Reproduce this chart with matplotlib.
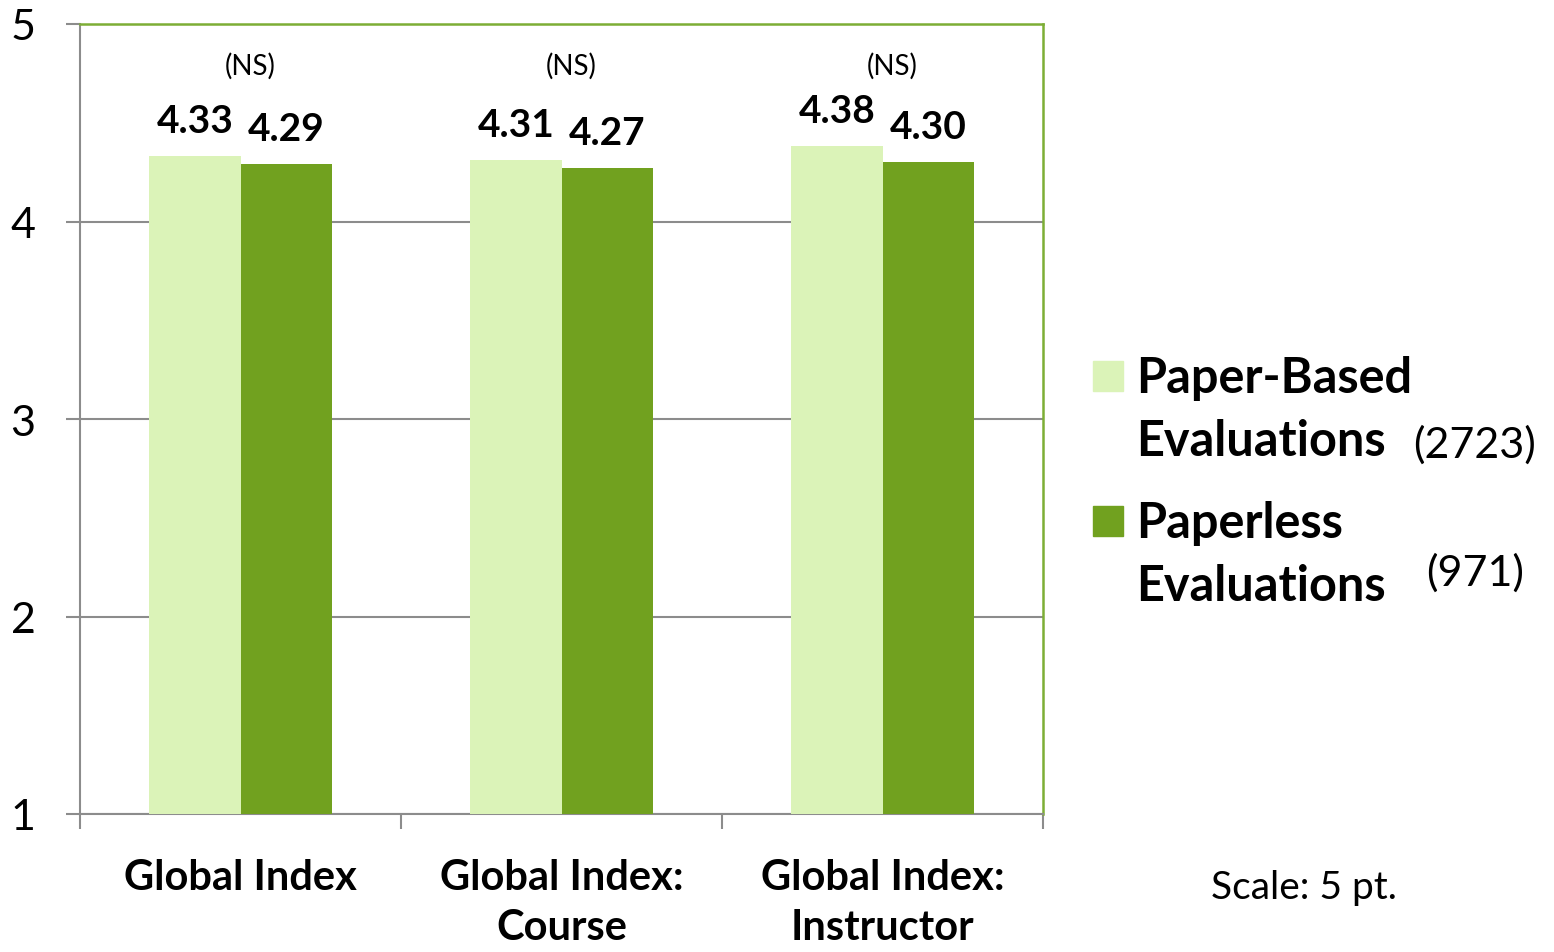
import matplotlib.pyplot as plt
from matplotlib.patches import Rectangle
import numpy as np

plt.rcParams['font.family'] = ['Lato', 'DejaVu Sans']

categories = ['Global Index', 'Global Index:\nCourse', 'Global Index:\nInstructor']
paper_based = [4.33, 4.31, 4.38]
paperless = [4.29, 4.27, 4.30]
significance = ['(NS)', '(NS)', '(NS)']
series_names = ['Paper-Based\nEvaluations', 'Paperless\nEvaluations']
series_counts = ['(2723)', '(971)']

light = '#DBF3B8'
dark = '#71A11F'
border_green = '#7DAE35'
gray = '#8C8C8C'

fig = plt.figure(figsize=(15.54, 9.53), dpi=100)
ax = fig.add_axes([80 / 1554, 1 - 815 / 953, 963 / 1554, 790 / 953])

x = np.arange(len(categories))
w = 0.284
ax.bar(x - w / 2, [v - 1 for v in paper_based], w, bottom=1, color=light, zorder=3)
ax.bar(x + w / 2, [v - 1 for v in paperless], w, bottom=1, color=dark, zorder=3)

for i in range(len(categories)):
    ax.annotate(f'{paper_based[i]:.2f}', (x[i] - w / 2, paper_based[i]), xytext=(0, 26),
                textcoords='offset points', ha='center', va='center',
                fontsize=28, fontweight='bold')
    ax.annotate(f'{paperless[i]:.2f}', (x[i] + w / 2, paperless[i]), xytext=(0, 26),
                textcoords='offset points', ha='center', va='center',
                fontsize=28, fontweight='bold')
    ax.text(x[i] + 0.03, 4.79, significance[i], ha='center', va='center', fontsize=20)

ax.set_xlim(-0.5, len(categories) - 0.5)
ax.set_ylim(1, 5)
ax.set_yticks([1, 2, 3, 4, 5])
ax.tick_params(axis='y', labelsize=31, length=10, width=1.5, color=gray, pad=22)
ax.set_xticks([-0.5, 0.5, 1.5, 2.5])
ax.set_xticklabels([])
ax.tick_params(axis='x', length=11, width=1.5, color=gray)
for i, c in enumerate(categories):
    ax.text(x[i], 0.775, c, ha='center', va='top', fontsize=30, fontweight='bold',
            linespacing=1.38, transform=ax.transData, clip_on=False)

ax.grid(axis='y', color=gray, linewidth=1.5, zorder=0)
for s in ['left', 'bottom']:
    ax.spines[s].set_color(gray)
    ax.spines[s].set_linewidth(1.5)
for s in ['top', 'right']:
    ax.spines[s].set_color(border_green)
    ax.spines[s].set_linewidth(1.8)

# legend
colors = [light, dark]
tops = [362, 507]
for i in range(2):
    fig.add_artist(Rectangle((1093 / 1554, 1 - (tops[i] + 30) / 953), 30 / 1554, 30 / 953,
                             transform=fig.transFigure, color=colors[i]))
    fig.text(1136 / 1554, 1 - (tops[i] - 6) / 953, series_names[i], ha='left', va='top',
             fontsize=35, fontweight='bold', linespacing=1.5)
fig.text(1536 / 1554, 1 - 445 / 953, series_counts[0], ha='right', va='center', fontsize=31)
fig.text(1524 / 1554, 1 - 573 / 953, series_counts[1], ha='right', va='center', fontsize=31)

fig.text(1304 / 1554, 1 - 888 / 953, 'Scale: 5 pt.', ha='center', va='center', fontsize=28)

fig.savefig('out.png', dpi=100)
